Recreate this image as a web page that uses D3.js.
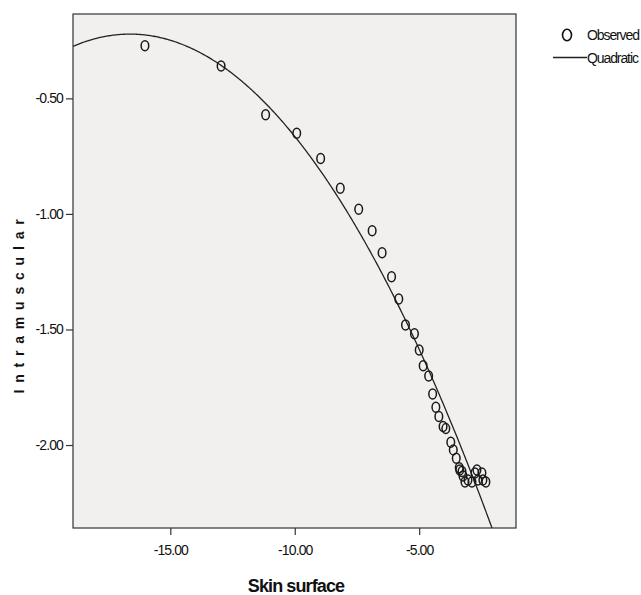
<!DOCTYPE html>
<html>
<head>
<meta charset="utf-8">
<script src="https://cdn.jsdelivr.net/npm/d3@7"></script>
<style>
  body { margin: 0; background: #fff; }
  text { font-family: "Liberation Sans", Arial, sans-serif; fill: #111; }
</style>
</head>
<body>
<div id="root"></div>
<script>
// observed points (Skin surface vs Intramuscular)
const obsX = [-16.02, -12.96, -11.17, -9.92, -8.96, -8.17, -7.43, -6.89, -6.49, -6.11,
  -5.82, -5.55, -5.19, -5.00, -4.84, -4.62, -4.46, -4.33, -4.21, -4.04,
  -3.93, -3.73, -3.63, -3.51, -3.39, -3.28, -3.37, -3.24, -3.16, -3.04,
  -2.88, -2.76, -2.68, -2.48, -2.44, -2.32, -2.64];
const obsY = [-0.272, -0.360, -0.571, -0.651, -0.760, -0.889, -0.980, -1.073, -1.168, -1.272,
  -1.368, -1.481, -1.519, -1.589, -1.657, -1.701, -1.779, -1.837, -1.877, -1.920,
  -1.929, -1.988, -2.021, -2.057, -2.098, -2.115, -2.108, -2.134, -2.160, -2.151,
  -2.160, -2.121, -2.108, -2.121, -2.151, -2.160, -2.151];

// quadratic fit: y = a*(x-h)^2 + k
const quadA = -0.0101, quadH = -16.62, quadK = -0.222;

const xTicks = [-15, -10, -5];
const yTicks = [-0.5, -1.0, -1.5, -2.0];
const legendLabels = ["Observed", "Quadratic"];

const W = 641, H = 595;
const plot = {left: 73, top: 14, right: 516, bottom: 528};

const svg = d3.select('#root').append('svg')
  .attr('width', W).attr('height', H);

const x = d3.scaleLinear().domain([-18.91, -1.11]).range([plot.left, plot.right]);
const y = d3.scaleLinear().domain([-0.135, -2.359]).range([plot.top, plot.bottom]);

// SPSS style labels use a plain hyphen
const fmt = d => d3.format('.2f')(d).replace('\u2212', '-');

// background
svg.append('rect')
  .attr('x', plot.left).attr('y', plot.top)
  .attr('width', plot.right - plot.left).attr('height', plot.bottom - plot.top)
  .attr('fill', '#f1f0ef');

svg.append('clipPath').attr('id', 'clip')
  .append('rect')
  .attr('x', plot.left).attr('y', plot.top)
  .attr('width', plot.right - plot.left).attr('height', plot.bottom - plot.top);

// axes
const xAxis = svg.append('g')
  .attr('transform', `translate(0,${plot.bottom})`)
  .call(d3.axisBottom(x).tickValues(xTicks).tickFormat(fmt).tickSize(7).tickPadding(10));
const yAxis = svg.append('g')
  .attr('transform', `translate(${plot.left},0)`)
  .call(d3.axisLeft(y).tickValues(yTicks).tickFormat(fmt).tickSize(7).tickPadding(3));

[xAxis, yAxis].forEach(g => {
  g.select('.domain').remove();
  g.selectAll('line').attr('stroke', '#333').attr('stroke-width', 1.2);
  g.selectAll('text')
    .attr('font-family', '"Liberation Sans", Arial, sans-serif')
    .attr('font-size', 14).attr('fill', '#111')
    .style('letter-spacing', '-0.9px');
});

// fit line
const curveXs = d3.range(-18.91, -1.1, 0.05);
const line = d3.line()
  .x(d => x(d))
  .y(d => y(quadA * (d - quadH) * (d - quadH) + quadK));

svg.append('path')
  .datum(curveXs)
  .attr('clip-path', 'url(#clip)')
  .attr('fill', 'none')
  .attr('stroke', '#222')
  .attr('stroke-width', 1.3)
  .attr('d', line);

// observed markers
svg.append('g')
  .selectAll('ellipse')
  .data(obsX.map((d, i) => [d, obsY[i]]))
  .join('ellipse')
  .attr('cx', d => x(d[0]))
  .attr('cy', d => y(d[1]))
  .attr('rx', 3.8).attr('ry', 5)
  .attr('fill', 'none')
  .attr('stroke', '#1a1a1a')
  .attr('stroke-width', 1.5);

// frame
svg.append('rect')
  .attr('x', plot.left).attr('y', plot.top)
  .attr('width', plot.right - plot.left).attr('height', plot.bottom - plot.top)
  .attr('fill', 'none')
  .attr('stroke', '#333')
  .attr('stroke-width', 1.2);

// axis titles
svg.append('text')
  .attr('x', 296).attr('y', 592)
  .attr('text-anchor', 'middle')
  .attr('font-size', 18).attr('font-weight', 'bold')
  .style('letter-spacing', '-0.9px')
  .text('Skin surface');

svg.append('text')
  .attr('transform', 'translate(24,303) rotate(-90)')
  .attr('text-anchor', 'middle')
  .attr('font-size', 14).attr('font-weight', 'bold')
  .style('letter-spacing', '6.8px')
  .text('Intramuscular');

// legend
const legend = svg.append('g');
legend.append('ellipse')
  .attr('cx', 567).attr('cy', 35)
  .attr('rx', 4.5).attr('ry', 5.8)
  .attr('fill', 'none').attr('stroke', '#111').attr('stroke-width', 1.6);
legend.append('line')
  .attr('x1', 553).attr('x2', 587).attr('y1', 57.5).attr('y2', 57.5)
  .attr('stroke', '#222').attr('stroke-width', 1.3);
legend.selectAll('text.lab')
  .data(legendLabels)
  .join('text')
  .attr('class', 'lab')
  .attr('x', 587)
  .attr('y', (d, i) => 40 + i * 22.5)
  .attr('font-size', 14)
  .style('letter-spacing', '-1.1px')
  .text(d => d);
</script>
</body>
</html>
